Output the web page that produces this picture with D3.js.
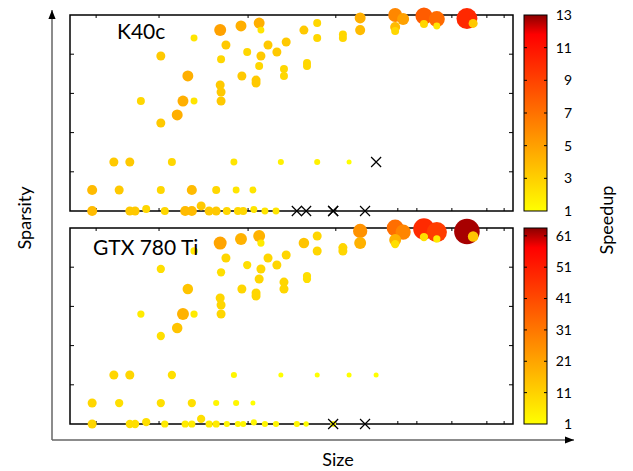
<!DOCTYPE html>
<html lang="en">
<head>
<meta charset="UTF-8" />
<title>Speedup by size and sparsity</title>
<script src="https://d3js.org/d3.v7.min.js"></script>
<style>
  body { margin: 0; background: #fff; }
  text { font-family: Lato, "Open Sans", sans-serif; fill: #000; }
</style>
</head>
<body>
<div id="chart"></div>
<script>
// matrix position, both in axis units (0-100)
const sizeVals = [5.0, 5.0, 9.9, 13.5, 11.1, 13.5, 14.7, 17.2, 16.0, 20.5,
  20.5, 20.5, 21.4, 23.0, 24.2, 25.5, 26.6, 28.0, 28.0, 26.0,
  27.5, 27.5, 29.6, 31.4, 33.0, 33.0, 33.9, 34.1, 33.9, 34.1,
  34.1, 35.2, 35.4, 37.0, 37.5, 37.9, 39.1, 38.6, 38.8, 40.0,
  41.3, 41.5, 42.0, 42.0, 42.7, 43.1, 43.1, 42.7, 44.0, 44.7,
  46.5, 46.7, 47.6, 48.3, 48.3, 48.8, 51.2, 53.3, 52.8, 53.5,
  53.5, 55.8, 55.8, 55.8, 59.4, 59.4, 61.6, 61.6, 63.0, 65.5,
  65.5, 66.6, 69.1, 73.4, 75.2, 73.4, 73.4, 79.9, 79.9, 82.8,
  82.8, 89.6, 91.0];
const sparsityVals = [0, 10.7, 25, 25, 10.7, 0, 0, 1.0, 56.1, 79.1,
  44.9, 10.7, 0, 25, 49, 56.1, 68.9, 88.3, 56.1, 0,
  0, 10.7, 2.6, 0, 0, 10.7, 92.3, 77.4, 64.3, 60.7,
  56.1, 84.7, 0, 25, 10.7, 0, 0, 94.4, 68.9, 81.1,
  10.7, 0.8, 66.8, 65.3, 95.9, 92.3, 79.1, 74.0, 0, 84.7,
  0, 81.1, 25, 72.4, 68.9, 86.2, 0, 0, 92.3, 75.5,
  74.0, 95.9, 88.3, 25, 0, 0, 90, 88.3, 25, 98.5,
  92.3, 0, 25, 100, 97.9, 93.9, 91.8, 99.5, 95.4, 97.9,
  94.4, 98.2, 95.7];
// speedup per GPU, null = failed run (drawn as a cross)
const speedupK40 = [3.9, 3.9, 3.3, 3.3, 3.3, 3.3, 3.3, 2.7, 2.7, 3.3,
  3.3, 2.7, 2.7, 2.7, 4.4, 4.4, 4.4, 2.1, 2.1, 3.9,
  3.9, 3.9, 3.3, 3.3, 3.3, 2.7, 5.0, 2.7, 3.3, 3.3,
  3.3, 3.3, 2.7, 2.1, 2.1, 2.7, 2.7, 4.4, 3.3, 2.7,
  2.1, 2.1, 3.3, 3.3, 4.4, 2.1, 3.3, 2.7, 2.1, 3.3,
  2.1, 3.3, 1.6, 2.7, 2.7, 3.3, null, null, 3.3, 2.7,
  2.7, 2.7, 2.7, 1.6, null, null, 2.7, 2.7, 1.0, 4.4,
  3.9, null, null, 6.1, 5.0, 3.9, 2.7, 7.9, 2.7, 7.3,
  2.1, 10.1, 3.3];
const speedupGTX = [10, 10, 10, 10, 8, 8, 8, 8, 5.5, 8,
  8, 8, 5.5, 8, 14, 18, 14, 5.5, 5.5, 5.5,
  5.5, 8, 8, 5.5, 5.5, 3, 21, 8, 10, 10,
  10, 10, 3, 3, 3, 3, 3, 18, 10, 8,
  1, 3, 10, 10, 18, 5.5, 10, 10, 3, 10,
  3, 10, 1, 10, 10, 10, 3, 1.5, 14, 8,
  8, 10, 10, 1, null, 2.5, 10, 10, 1, 25,
  18, null, 1, 33, 28, 18, 8, 48, 8, 44,
  5.5, 62, 14];
const cbTicksK40 = [1, 3, 5, 7, 9, 11, 13];
const cbTicksGTX = [1, 11, 21, 31, 41, 51, 61];
const xTickVals = [5.9, 20.1, 40.2, 60, 74, 78.3, 86.2, 94.1, 98];
const yTickVals = [0, 20, 40, 60, 80, 100];

const W = 633, H = 471;
const svg = d3.select("#chart").append("svg")
  .attr("width", W).attr("height", H);

const x = d3.scaleLinear().domain([0, 100]).range([70, 513]);

const palette = d3.scaleLinear()
  .domain([0, 0.9, 1])
  .range(["#ffff00", "#ff0000", "#8b0000"]);

// gradient for colour bars
const grad = svg.append("defs").append("linearGradient")
  .attr("id", "cbgrad")
  .attr("x1", "0%").attr("y1", "100%")
  .attr("x2", "0%").attr("y2", "0%");
[0, 0.9, 1].forEach(function (o) {
  grad.append("stop").attr("offset", (o * 100) + "%")
    .attr("stop-color", palette(o));
});

const panels = [
  { name: "K40c", speed: speedupK40, max: 13, top: 15, bottom: 211,
    cbTicks: cbTicksK40, lx: 117, ly: 39, rExp: 1 },
  { name: "GTX 780 Ti", speed: speedupGTX, max: 63.5, top: 228, bottom: 424,
    cbTicks: cbTicksGTX, lx: 93, ly: 255, rExp: 0.85 }
];

panels.forEach(function (p) {
  const y = d3.scaleLinear().domain([0, 100]).range([p.bottom, p.top]);
  const norm = d3.scaleLinear().domain([1, p.max]).range([0, 1]).clamp(true);
  const r = d3.scalePow().exponent(p.rExp).domain([0, 1]).range([2.5, 13]);
  const g = svg.append("g");

  // ticks (inward, mirrored)
  const tk = g.append("g").attr("stroke", "#000").attr("stroke-width", 1);
  yTickVals.slice(1, -1).forEach(function (v) {
    tk.append("line").attr("x1", 70).attr("x2", 74).attr("y1", y(v)).attr("y2", y(v));
    tk.append("line").attr("x1", 513).attr("x2", 509).attr("y1", y(v)).attr("y2", y(v));
  });
  xTickVals.forEach(function (v) {
    tk.append("line").attr("x1", x(v)).attr("x2", x(v))
      .attr("y1", p.bottom).attr("y2", p.bottom - 3);
    tk.append("line").attr("x1", x(v)).attr("x2", x(v))
      .attr("y1", p.top).attr("y2", p.top + 3);
  });

  g.append("rect")
    .attr("x", 70).attr("y", p.top)
    .attr("width", 443).attr("height", p.bottom - p.top)
    .attr("fill", "none").attr("stroke", "#000").attr("stroke-width", 1.5);

  const pts = sizeVals.map(function (s, i) {
    return { x: s, y: sparsityVals[i], v: p.speed[i] };
  });
  const ok = pts.filter(function (d) { return d.v !== null; })
    .sort(function (a, b) { return b.v - a.v; });
  const bad = pts.filter(function (d) { return d.v === null; });

  g.selectAll("circle.pt").data(ok).enter().append("circle")
    .attr("class", "pt")
    .attr("cx", function (d) { return x(d.x); })
    .attr("cy", function (d) { return y(d.y); })
    .attr("r", function (d) { return r(norm(d.v)); })
    .attr("fill", function (d) { return palette(norm(d.v)); });

  g.selectAll("path.fail").data(bad).enter().append("path")
    .attr("class", "fail")
    .attr("transform", function (d) { return "translate(" + x(d.x) + "," + y(d.y) + ")"; })
    .attr("d", "M-5,-5L5,5M-5,5L5,-5")
    .attr("stroke", "#000").attr("stroke-width", 1.2);

  g.append("text")
    .attr("x", p.lx).attr("y", p.ly)
    .attr("font-size", 21)
    .text(p.name);

  // colour bar
  const cy = d3.scaleLinear().domain([1, p.max]).range([p.bottom, p.top]);
  g.append("rect")
    .attr("x", 524).attr("y", p.top)
    .attr("width", 23).attr("height", p.bottom - p.top)
    .attr("fill", "url(#cbgrad)").attr("stroke", "#000").attr("stroke-width", 1);
  p.cbTicks.forEach(function (v) {
    if (v > 1 && v < p.max - 0.5) {
      g.append("line").attr("x1", 524).attr("x2", 527)
        .attr("y1", cy(v)).attr("y2", cy(v)).attr("stroke", "#000");
      g.append("line").attr("x1", 547).attr("x2", 544)
        .attr("y1", cy(v)).attr("y2", cy(v)).attr("stroke", "#000");
    }
    g.append("text")
      .attr("x", 572).attr("y", cy(v))
      .attr("dy", "0.35em")
      .attr("text-anchor", "end")
      .attr("font-size", 14)
      .text(v);
  });
});

// outer arrow axes
const defs = svg.select("defs");
defs.append("marker")
  .attr("id", "arrow")
  .attr("viewBox", "0 0 10 10")
  .attr("refX", 10).attr("refY", 5)
  .attr("markerWidth", 6).attr("markerHeight", 6)
  .attr("orient", "auto")
  .append("path").attr("d", "M0,1L10,5L0,9Z").attr("fill", "#000");

svg.append("path")
  .attr("d", d3.line()([[52, 440], [52, 10]]))
  .attr("stroke", "#666").attr("stroke-width", 1.5).attr("fill", "none")
  .attr("marker-end", "url(#arrow)");
svg.append("path")
  .attr("d", d3.line()([[52, 440], [574, 440]]))
  .attr("stroke", "#666").attr("stroke-width", 1.5).attr("fill", "none")
  .attr("marker-end", "url(#arrow)");

svg.append("text")
  .attr("x", 338).attr("y", 466)
  .attr("text-anchor", "middle").attr("font-size", 18)
  .text("Size");
svg.append("text")
  .attr("transform", "translate(31,218) rotate(-90)")
  .attr("text-anchor", "middle").attr("font-size", 18)
  .text("Sparsity");
svg.append("text")
  .attr("transform", "translate(613,220) rotate(-90)")
  .attr("text-anchor", "middle").attr("font-size", 18)
  .text("Speedup");
</script>
</body>
</html>
